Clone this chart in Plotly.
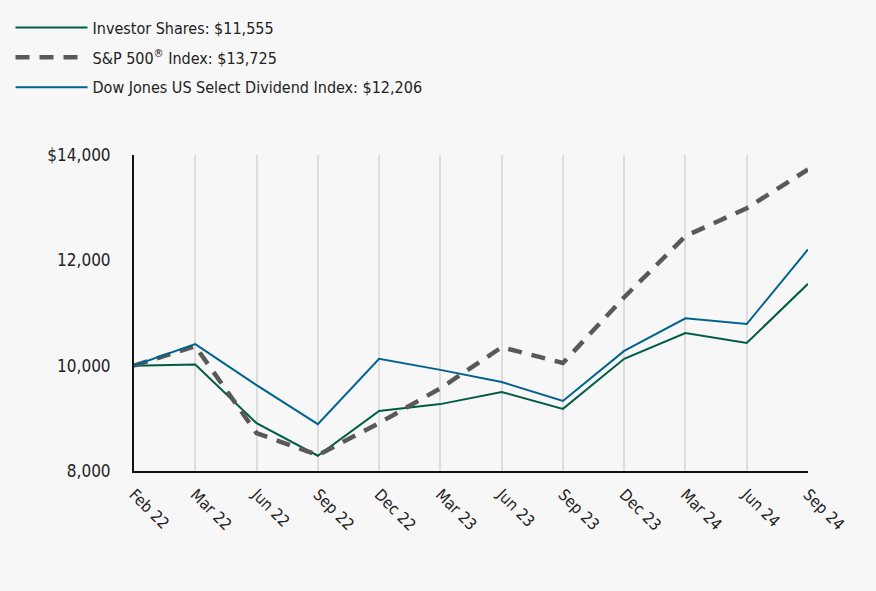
import plotly.graph_objects as go

categories = ["Feb 22", "Mar 22", "Jun 22", "Sep 22", "Dec 22", "Mar 23",
              "Jun 23", "Sep 23", "Dec 23", "Mar 24", "Jun 24", "Sep 24"]
investor = [10000, 10020, 8910, 8290, 9140, 9270, 9500, 9180, 10130, 10620, 10430, 11555]
sp500 = [10000, 10370, 8720, 8300, 8910, 9570, 10350, 10050, 11300, 12460, 12990, 13725]
dowjones = [10000, 10410, 9630, 8890, 10130, 9920, 9690, 9330, 10280, 10900, 10790, 12206]
ytickvals = [8000, 10000, 12000, 14000]
yticktext = ["8,000", "10,000", "12,000", "$14,000"]

FONT = "Liberation Sans Narrow, DejaVu Sans Condensed, Arial Narrow, sans-serif"

fig = go.Figure()
fig.add_trace(go.Scatter(x=categories, y=investor, mode="lines",
                         name="Investor Shares: $11,555", legendgroup="a",
                         line=dict(color="#005c45", width=2)))
fig.add_trace(go.Scatter(x=categories, y=sp500, mode="lines",
                         name="S&P 500<sup>®</sup> Index: $13,725", legendgroup="b",
                         line=dict(color="#595959", width=4.5, dash="14px,10px")))
fig.add_trace(go.Scatter(x=categories, y=dowjones, mode="lines",
                         name="Dow Jones US Select Dividend Index: $12,206", legendgroup="c",
                         line=dict(color="#00628f", width=2)))

fig.update_layout(
    width=876, height=591,
    paper_bgcolor="#f7f7f7", plot_bgcolor="#f7f7f7",
    margin=dict(l=134, r=68, t=155, b=120, autoexpand=False),
    font=dict(family=FONT, size=16, color="#222222"),
    showlegend=True,
    legend=dict(x=0.012, y=0.982, xref="container", yref="container",
                xanchor="left", yanchor="top",
                font=dict(family=FONT, size=16, color="#222222"),
                bgcolor="rgba(0,0,0,0)", tracegroupgap=6, itemwidth=72),
    xaxis=dict(type="category", showgrid=True, gridcolor="#dddddd", gridwidth=2,
               showline=True, linecolor="#111111", linewidth=2,
               tickangle=45, ticks="", range=[0, 11], ticklabelstandoff=6,
               tickfont=dict(family=FONT, size=16, color="#222222")),
    yaxis=dict(range=[8000, 14000], tickvals=ytickvals, ticktext=yticktext,
               showgrid=False, zeroline=False, showline=True,
               linecolor="#111111", linewidth=2, ticks="", ticklabelstandoff=18,
               tickfont=dict(family=FONT, size=17, color="#222222")),
)

fig.write_html("out.html")
